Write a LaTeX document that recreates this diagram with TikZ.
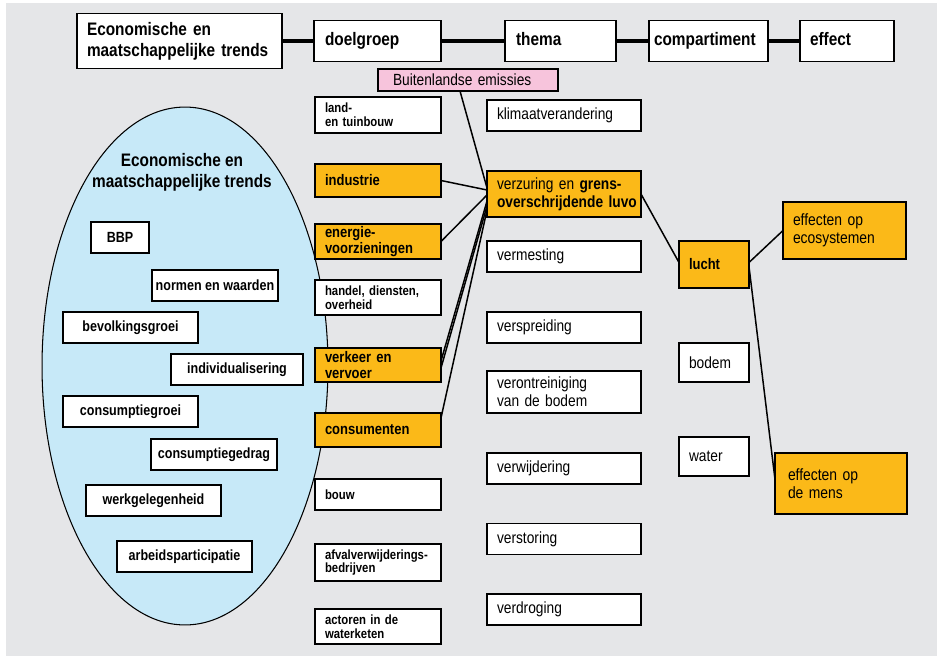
\documentclass[tikz,border=0pt]{standalone}
\usepackage{fontspec}
\setmainfont{Liberation Sans}[FakeStretch=0.85]
\usepackage{tikz}
\usepackage{xcolor}
\usetikzlibrary{shapes.geometric}

\definecolor{achter}{RGB}{229,230,232}
\definecolor{oranje}{RGB}{251,185,24}
\definecolor{roze}{RGB}{247,196,220}
\definecolor{lichtblauw}{RGB}{199,233,248}

\begin{document}
\begin{tikzpicture}[x=0.02cm, y=-0.02cm,
        doelo/.style = {fill=oranje, font=\fontsize{8.7}{9.2}\selectfont\bfseries},
        doelw/.style = {fill=white, font=\fontsize{7.6}{7.8}\selectfont\bfseries},
        regel/.style = {text height=0.72em, text depth=0.22em}]
        \useasboundingbox (0,0) rectangle (937,656);
        \fill[achter] (6,3) rectangle (937,656);

        \begin{scope}[every node/.style = {draw, line width=0.7pt, fill=white, inner xsep=0.22cm,
                inner ysep=0pt, outer sep=0pt, align=left, minimum height=0.82cm,
                font=\fontsize{10.3}{12}\selectfont\bfseries}]
            \node[text width=3.7cm, inner xsep=0.2cm, minimum height=1.1cm] (K) at (179.5,41) {Economische en\\maatschappelijke trends};
            \node[regel, text width=2.1cm] (D) at (377.5,41)  {doelgroep};
            \node[regel, text width=1.78cm] (T) at (560.5,41) {thema};
            \node[regel, text width=2.18cm, inner xsep=0.1cm] (C) at (708.5,41) {compartiment};
            \node[regel, text width=1.48cm, inner xsep=0.2cm] (F) at (847,41) {effect};
        \end{scope}

        \begin{scope}[every edge/.style = {draw, line width=2.2pt}]
            \path (K) edge (D);
            \path (D) edge (T);
            \path (T) edge (C);
            \path (C) edge (F);
        \end{scope}

        \node[ellipse, draw, line width=0.6pt, fill=lichtblauw, minimum width=5.72cm,
                minimum height=10.36cm, inner sep=0pt] (E) at (185,366) {};
        \node[align=center, font=\fontsize{10.3}{12}\selectfont\bfseries] (Et) at (182,172) {Economische en\\maatschappelijke trends};

        \begin{scope}[every node/.style = {draw, line width=0.7pt, fill=white, inner sep=0pt,
                minimum height=0.62cm, font=\fontsize{8.4}{10}\selectfont\bfseries}]
            \node[minimum width=1.16cm] (bbp) at (120,237.5)   {BBP};
            \node[minimum width=2.52cm] (nw) at (215,285.5)    {normen en waarden};
            \node[minimum width=2.7cm] (bg) at (130.5,327.5)   {bevolkingsgroei};
            \node[minimum width=2.64cm] (iv) at (237,369.5)    {individualisering};
            \node[minimum width=2.7cm] (cg) at (130.5,411.5)   {consumptiegroei};
            \node[minimum width=2.52cm] (cd) at (214,454.5)    {consumptiegedrag};
            \node[minimum width=2.7cm] (wg) at (153.5,500.5)   {werkgelegenheid};
            \node[minimum width=2.7cm] (ap) at (184.5,556.5)   {arbeidsparticipatie};
        \end{scope}

        \node[draw, line width=0.7pt, fill=roze, inner xsep=0.3cm, inner ysep=0pt, outer sep=0pt,
                text width=3.0cm, align=left, minimum height=0.44cm,
                font=\fontsize{9.2}{11}\selectfont] (be) at (468,80) {Buitenlandse emissies};

        \begin{scope}[every node/.style = {draw, line width=0.7pt, inner xsep=0.2cm, inner ysep=0pt,
                outer sep=0pt, text width=2.12cm, align=left}]
            \node[doelw, minimum height=0.72cm] (lt) at (378,115)   {land-\\en tuinbouw};
            \node[doelo, minimum height=0.66cm] (ind) at (378,180.5) {industrie};
            \node[doelo, minimum height=0.7cm] (en) at (378,241.5)  {energie-\\voorzieningen};
            \node[doelw, minimum height=0.7cm] (hd) at (378,297.5)  {handel, diensten,\\overheid};
            \node[doelo, minimum height=0.68cm] (vv) at (378,365)   {verkeer en\\vervoer};
            \node[doelo, minimum height=0.68cm] (con) at (378,430)  {consumenten};
            \node[doelw, minimum height=0.62cm] (bo) at (378,494.5) {bouw};
            \node[doelw, minimum height=0.74cm] (af) at (378,562.5) {afvalverwijderings-\\bedrijven};
            \node[doelw, minimum height=0.7cm] (ac) at (378,626.5)  {actoren in de\\waterketen};
        \end{scope}

        \begin{scope}[every node/.style = {draw, line width=0.7pt, fill=white, inner xsep=0.2cm,
                inner ysep=0pt, outer sep=0pt, text width=2.68cm, align=left, minimum height=0.62cm,
                font=\fontsize{9.2}{10.3}\selectfont}]
            \node (kl) at (564,115.5) {klimaatverandering};
            \node[fill=oranje, minimum height=0.92cm] (vz) at (564,194) {verzuring en \textbf{grens-}\\\mbox{\textbf{overschrijdende luvo}}};
            \node (vm) at (564,256.5) {vermesting};
            \node (vs) at (564,327.5) {verspreiding};
            \node[minimum height=0.84cm] (vb) at (564,392) {verontreiniging\\van de bodem};
            \node (vw) at (564,468.5) {verwijdering};
            \node (vt) at (564,539)   {verstoring};
            \node (vd) at (564,609.5) {verdroging};
        \end{scope}

        \begin{scope}[every node/.style = {draw, line width=0.7pt, fill=white, inner xsep=0.2cm,
                inner ysep=0pt, outer sep=0pt, text width=1.0cm, align=left, minimum height=0.78cm,
                font=\fontsize{9.2}{10.3}\selectfont}]
            \node[fill=oranje, minimum height=0.94cm, font=\fontsize{8.7}{10}\selectfont\bfseries] (lu) at (714,264.5) {lucht};
            \node (bd) at (714,362.5) {bodem};
            \node (wa) at (714,456.5) {water};
        \end{scope}

        \begin{scope}[every node/.style = {draw, line width=0.7pt, fill=oranje, inner xsep=0.2cm,
                inner ysep=0pt, outer sep=0pt, align=left, font=\fontsize{9.3}{10.3}\selectfont}]
            \node[text width=2.06cm, minimum height=1.14cm] (eco) at (844.5,230.5) {effecten op\\ecosystemen};
            \node[text width=2.12cm, inner xsep=0.26cm, minimum height=1.22cm] (mens) at (841,483.5) {effecten op\\de mens};
        \end{scope}

        \begin{scope}[every edge/.style = {draw, line width=0.85pt}]
            \path ([xshift=-0.16cm]be.south) edge ([yshift=0.12cm]vz.west);
            \path (ind.east) edge ([yshift=0.08cm]vz.west);
            \path (en.east) edge ([yshift=-0.02cm]vz.west);
            \path ([yshift=0.08cm]vv.east) edge ([yshift=-0.14cm]vz.west);
            \path ([yshift=-0.06cm]vv.east) edge ([yshift=-0.24cm]vz.west);
            \path ([yshift=0.24cm]con.east) edge ([yshift=-0.32cm]vz.west);
            \path (vz.east) edge ([yshift=0.04cm]lu.west);
            \path ([yshift=0.04cm]lu.east) edge (eco.west);
            \path ([yshift=-0.04cm]lu.east) edge ([yshift=0.08cm]mens.west);
        \end{scope}
\end{tikzpicture}
\end{document}
